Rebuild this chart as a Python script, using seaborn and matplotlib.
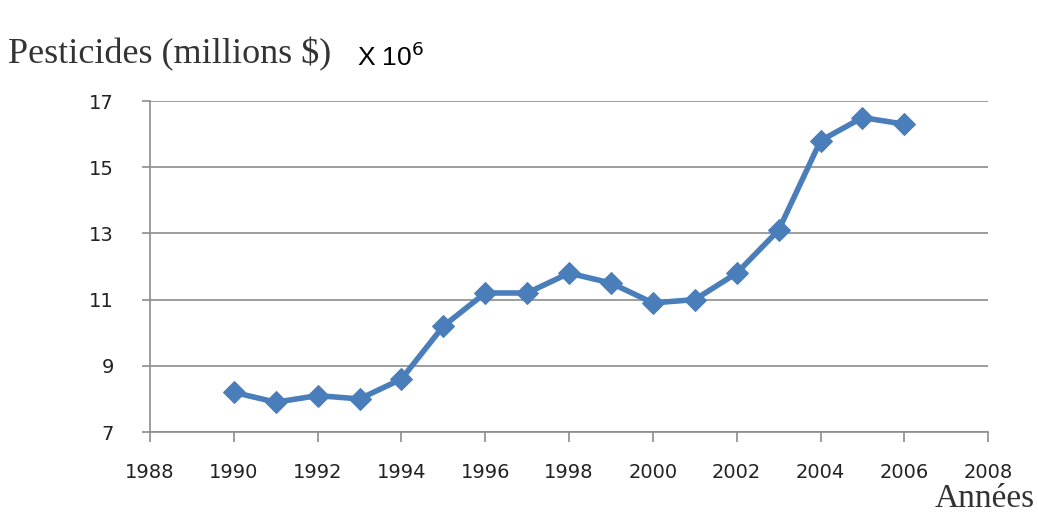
import pandas as pd
import matplotlib.pyplot as plt
import seaborn as sns

# Données
annees = [1990, 1991, 1992, 1993, 1994, 1995, 1996, 1997, 1998,
          1999, 2000, 2001, 2002, 2003, 2004, 2005, 2006]
pesticides = [8.2, 7.9, 8.1, 8.0, 8.6, 10.2, 11.2, 11.2, 11.8,
              11.5, 10.9, 11.0, 11.8, 13.1, 15.8, 16.5, 16.3]
x_ticks = list(range(1988, 2009, 2))
y_ticks = [7, 9, 11, 13, 15, 17]

df = pd.DataFrame({"Annee": annees, "Pesticides": pesticides})

sns.set_style("white")
fig = plt.figure(figsize=(10.38, 5.14), dpi=100)
ax = fig.add_axes([0.1445, 0.1595, 0.8075, 0.644])

sns.lineplot(data=df, x="Annee", y="Pesticides", ax=ax, color="#4a7ebb",
             linewidth=4, marker="D", markersize=11, markeredgecolor="#4a7ebb")

ax.set_xlim(1988, 2008)
ax.set_ylim(7, 17)
ax.set_xticks(x_ticks)
ax.set_yticks(y_ticks)
ax.set_xlabel("")
ax.set_ylabel("")
ax.grid(axis="y", color="#8c8c8c", linewidth=1.2)
ax.set_axisbelow(True)

for s in ["top", "right"]:
    ax.spines[s].set_visible(False)
for s in ["left", "bottom"]:
    ax.spines[s].set_color("#8c8c8c")
    ax.spines[s].set_linewidth(1.2)

ax.tick_params(axis="x", direction="out", length=7, width=1.2, color="#8c8c8c",
               pad=15, labelsize=14, bottom=True)
ax.tick_params(axis="y", direction="out", length=6, width=1.2, color="#8c8c8c",
               pad=20, labelsize=14, left=True)
for lab in ax.get_xticklabels() + ax.get_yticklabels():
    lab.set_color("#222222")

fig.text(0.008, 0.877, "Pesticides (millions $)", family="Liberation Serif",
         fontsize=26, color="#333333", va="baseline")
fig.text(0.344, 0.872, r"X 10$^{6}$", family="Liberation Sans",
         fontsize=19, color="black", va="baseline")
fig.text(0.997, 0.014, "Années", family="Liberation Serif",
         fontsize=24, color="#333333", ha="right", va="baseline")

fig.savefig("out.png", dpi=100)
